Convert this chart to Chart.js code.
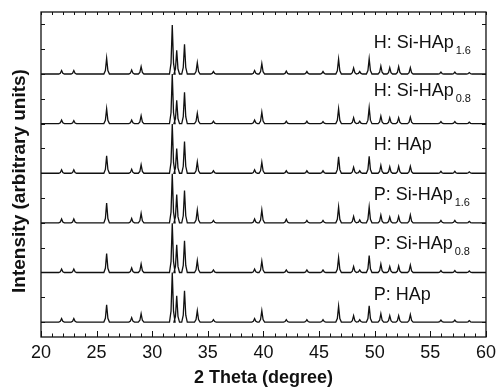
<!DOCTYPE html>
<html><head><meta charset="utf-8">
<script src="https://cdn.jsdelivr.net/npm/chart.js@4"></script>
<style>html,body{margin:0;padding:0;background:#fff}#wrap{width:501px;height:389px;position:relative}</style>
</head><body><div id="wrap"><canvas id="c"></canvas></div>
<script>
// ---- data ----
const xTickLabels = [20, 25, 30, 35, 40, 45, 50, 55, 60];
const peakPositions = [21.85, 22.95, 25.9, 28.15, 29.0, 31.8, 32.2, 32.9, 34.05, 35.5, 39.2, 39.85, 42.05, 43.9, 45.35, 46.75, 48.1, 48.65, 49.5, 50.55, 51.35, 52.15, 53.2, 55.95, 57.2, 58.5];
// series listed from top trace to bottom trace
const seriesMain = ['H: Si-HAp', 'H: Si-HAp', 'H: HAp', 'P: Si-HAp', 'P: Si-HAp', 'P: HAp'];
const seriesSub  = ['1.6', '0.8', '', '1.6', '0.8', ''];
const hSiHAp16 = [0.07,0.07,0.32,0.08,0.15,0.99,0.48,0.60,0.23,0.05,0.07,0.21,0.06,0.05,0.05,0.30,0.12,0.05,0.31,0.16,0.13,0.15,0.13,0.04,0.04,0.03];
const hSiHAp08 = [0.07,0.06,0.30,0.07,0.16,1.00,0.47,0.63,0.21,0.05,0.07,0.23,0.05,0.05,0.04,0.30,0.12,0.05,0.32,0.15,0.12,0.12,0.13,0.04,0.04,0.03];
const hHAp     = [0.07,0.07,0.35,0.08,0.17,0.99,0.50,0.64,0.23,0.05,0.07,0.22,0.05,0.05,0.05,0.33,0.12,0.05,0.34,0.16,0.13,0.14,0.14,0.04,0.04,0.03];
const pSiHAp16 = [0.08,0.08,0.40,0.09,0.19,0.99,0.57,0.65,0.26,0.05,0.08,0.26,0.07,0.05,0.05,0.32,0.13,0.06,0.32,0.16,0.12,0.13,0.16,0.05,0.05,0.03];
const pSiHAp08 = [0.07,0.07,0.38,0.09,0.17,0.99,0.56,0.64,0.24,0.05,0.07,0.23,0.05,0.05,0.05,0.30,0.12,0.05,0.34,0.17,0.12,0.13,0.15,0.04,0.04,0.03];
const pHAp     = [0.07,0.07,0.35,0.09,0.17,1.00,0.53,0.63,0.23,0.05,0.07,0.23,0.05,0.05,0.05,0.32,0.13,0.05,0.33,0.17,0.13,0.13,0.15,0.04,0.04,0.03];
const seriesHeights = [hSiHAp16, hSiHAp08, hHAp, pSiHAp16, pSiHAp08, pHAp];
const seriesOffsets = [5, 4, 3, 2, 1, 0];

// ---- layout / style config ----
const peakHalfWidth = 0.25;
const labelX = 49.9;
const labelY = [5.52, 4.56, 3.47, 2.46, 1.47, 0.45];
const FONT = '"Liberation Sans", Arial, Helvetica, sans-serif';

function buildPoints(heights, offset) {
  const pts = [{x: 20, y: offset}];
  peakPositions.forEach((p, i) => {
    const h = heights[i];
    pts.push({x: p - peakHalfWidth, y: offset});
    pts.push({x: p - peakHalfWidth * 0.45, y: offset + h * 0.22});
    pts.push({x: p, y: offset + h});
    pts.push({x: p + peakHalfWidth * 0.45, y: offset + h * 0.22});
    pts.push({x: p + peakHalfWidth, y: offset});
  });
  pts.push({x: 60, y: offset});
  return pts;
}

const datasets = seriesHeights.map((h, i) => ({
  label: seriesMain[i] + seriesSub[i],
  data: buildPoints(h, seriesOffsets[i]),
  borderColor: '#111',
  borderWidth: 1.3,
  pointRadius: 0,
  tension: 0,
  fill: false
}));

const decor = {
  id: 'decor',
  afterDraw(chart) {
    const ctx = chart.ctx, x = chart.scales.x, y = chart.scales.y, a = chart.chartArea;
    ctx.save();
    ctx.strokeStyle = '#111';
    ctx.lineWidth = 1.3;
    ctx.strokeRect(a.left, a.top, a.right - a.left, a.bottom - a.top);
    ctx.lineWidth = 1;
    ctx.beginPath();
    for (let v = 20; v <= 60; v++) {
      const px = Math.round(x.getPixelForValue(v)) + 0.5;
      const len = (v % 5 === 0) ? 6 : 3.5;
      ctx.moveTo(px, a.bottom); ctx.lineTo(px, a.bottom - len);
      ctx.moveTo(px, a.top); ctx.lineTo(px, a.top + 3);
    }
    for (let v = 0; v <= 6.001; v += 0.5) {
      const py = Math.round(y.getPixelForValue(v)) + 0.5;
      ctx.moveTo(a.left, py); ctx.lineTo(a.left + 4, py);
      ctx.moveTo(a.right, py); ctx.lineTo(a.right - 4, py);
    }
    ctx.stroke();
    // series labels
    ctx.fillStyle = '#111';
    ctx.textBaseline = 'alphabetic';
    ctx.textAlign = 'left';
    seriesMain.forEach((t, i) => {
      const px = x.getPixelForValue(labelX), py = y.getPixelForValue(labelY[i]);
      ctx.font = '18px ' + FONT;
      ctx.fillText(t, px, py);
      if (seriesSub[i]) {
        const w = ctx.measureText(t).width;
        ctx.font = '11px ' + FONT;
        ctx.fillText(seriesSub[i], px + w + 2, py + 6);
      }
    });
    // axis titles
    ctx.font = 'bold 18px ' + FONT;
    ctx.textAlign = 'center';
    ctx.textBaseline = 'alphabetic';
    ctx.fillText('2 Theta (degree)', (a.left + a.right) / 2, 383);
    ctx.save();
    ctx.translate(25, 181);
    ctx.rotate(-Math.PI / 2);
    ctx.font = 'bold 19px ' + FONT;
    ctx.fillText('Intensity (arbitrary units)', 0, 0);
    ctx.restore();
    ctx.restore();
  }
};

new Chart(document.getElementById('c'), {
  type: 'line',
  data: { datasets },
  options: {
    responsive: true,
    maintainAspectRatio: false,
    animation: false,
    devicePixelRatio: 1,
    layout: { padding: { left: 41, right: 11, top: 12, bottom: 0 } },
    plugins: { legend: { display: false }, tooltip: { enabled: false } },
    scales: {
      x: {
        type: 'linear', min: 20, max: 60,
        afterFit(s) { s.height = 52; },
        afterBuildTicks(s) { s.ticks = xTickLabels.map(v => ({ value: v })); },
        ticks: { color: '#111', padding: 5, font: { size: 18, family: FONT }, maxRotation: 0, autoSkip: false },
        grid: { display: false, drawTicks: false },
        border: { display: false }
      },
      y: { type: 'linear', min: -0.3, max: 6.25, display: false }
    }
  },
  plugins: [decor]
});
</script>
</body></html>
